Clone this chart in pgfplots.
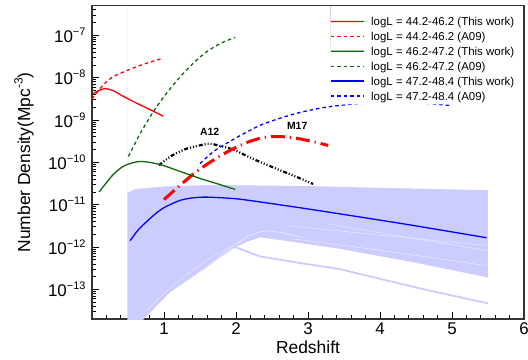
\documentclass[border=0pt]{standalone}
\usepackage{fontspec}
\setmainfont{Liberation Sans}
\usepackage{pgfplots}
\pgfplotsset{compat=1.18}
\definecolor{lav}{RGB}{204,204,255}
\definecolor{lavw}{RGB}{235,235,255}
\definecolor{dgreen}{RGB}{10,105,10}
\newcommand{\ex}[1]{\raisebox{7bp}{\fontsize{11}{11}\selectfont #1}}
\begin{document}
\begin{tikzpicture}
\fill[white] (-92bp,-41bp) rectangle (436bp,319bp);
\begin{axis}[
  scale only axis,
  width=432bp, height=313.3bp,
  xmin=0, xmax=6,
  ymode=log, ymin=2e-14, ymax=5e-7,
  xtick={1,2,3,4,5,6},
  xticklabels={1,2,3,4,5,6},
  minor xtick={0.2,0.4,0.6,0.8,1.2,1.4,1.6,1.8,2.2,2.4,2.6,2.8,3.2,3.4,3.6,3.8,4.2,4.4,4.6,4.8,5.2,5.4,5.6,5.8},
  ytick={1e-13,1e-12,1e-11,1e-10,1e-9,1e-8,1e-7},
  yticklabels={10\ex{−13},10\ex{−12},10\ex{−11},10\ex{−10},10\ex{−9},10\ex{−8},10\ex{−7}},
  minor ytick={2e-14,3e-14,4e-14,5e-14,6e-14,7e-14,8e-14,9e-14,
    2e-13,3e-13,4e-13,5e-13,6e-13,7e-13,8e-13,9e-13,
    2e-12,3e-12,4e-12,5e-12,6e-12,7e-12,8e-12,9e-12,
    2e-11,3e-11,4e-11,5e-11,6e-11,7e-11,8e-11,9e-11,
    2e-10,3e-10,4e-10,5e-10,6e-10,7e-10,8e-10,9e-10,
    2e-9,3e-9,4e-9,5e-9,6e-9,7e-9,8e-9,9e-9,
    2e-8,3e-8,4e-8,5e-8,6e-8,7e-8,8e-8,9e-8,
    2e-7,3e-7,4e-7},
  xtick pos=bottom, ytick pos=left,
  tick align=inside,
  major tick length=7bp, minor tick length=4bp,
  every tick/.style={black, line width=0.8bp},
  axis line style={line width=1.2bp, black!80},
  xticklabel style={font=\fontsize{17}{17}\selectfont},
  yticklabel style={font=\fontsize{17}{17}\selectfont, xshift=-3bp},
  xlabel={Redshift},
  ylabel={Number Density(Mpc\raisebox{7.5bp}{\fontsize{12}{12}\selectfont -3})},
  every axis x label/.style={at={(axis description cs:0.5,0)}, anchor=base, yshift=-34bp, font=\fontsize{17.5}{18}\selectfont},
  every axis y label/.style={at={(axis description cs:-0.1435,0.5)}, rotate=90, anchor=base, font=\fontsize{17.5}{18}\selectfont},
]
% band of curves
\addplot[fill=lav, draw=none, forget plot] coordinates {
 (0.49,1.91e-11) (0.6,2.34e-11) (1.0,2.69e-11) (1.5,2.88e-11) (2.0,2.88e-11)
 (3.0,2.75e-11) (4.0,2.51e-11) (5.5,2.19e-11)
 (5.5,1.91e-13) (4.56,4.07e-13) (3.44,9.12e-13) (2.8,1.32e-12) (2.33,1.70e-12)
 (2.15,1.32e-12) (1.99,1.0e-12) (1.55,3.02e-13) (1.08,8.51e-14) (0.69,1.78e-14)
 (0.69,1e-14) (0.49,1e-14) (0.49,1.91e-11)} \closedcycle;
\addplot[lav, line width=1.8bp, forget plot] coordinates {
 (1.99,1.0e-12) (2.33,6.03e-13) (2.9,4.17e-13) (3.44,3.02e-13) (4.0,1.78e-13) (4.56,1.05e-13) (5.5,4.68e-14)};
\addplot[lavw, line width=0.6bp, smooth, forget plot] coordinates {
 (1.55,2.82e-13) (1.9,8.91e-13) (2.2,1.91e-12) (2.47,2.40e-12) (2.93,1.70e-12)};
\addplot[lavw, line width=0.5bp, smooth, forget plot] coordinates {
 (2.7,3.24e-12) (4.0,1.91e-12) (5.48,1.10e-12)};
\addplot[lavw, line width=0.5bp, smooth, forget plot] coordinates {
 (3.26,3.55e-12) (4.3,1.78e-12) (5.48,8.32e-13)};
\addplot[lavw, line width=0.5bp, smooth, forget plot] coordinates {
 (2.8,1.55e-12) (4.1,7.94e-13) (5.48,3.63e-13)};
\addplot[lavw, line width=0.4bp, smooth, forget plot] coordinates {
 (0.75,3.16e-14) (1.2,1.58e-13) (1.7,6.31e-13) (2.1,1.41e-12)};
% A12
\addplot[black, line width=2.2bp, smooth, dash pattern=on 4bp off 2bp on 1bp off 2bp on 1bp off 2bp on 1bp off 2bp, forget plot] coordinates {
 (0.93,8.51e-11) (1.1,1.41e-10) (1.31,2.09e-10) (1.55,2.63e-10) (1.64,2.75e-10) (1.78,2.45e-10)
 (1.96,2.0e-10) (2.24,1.20e-10) (2.56,7.08e-11) (2.85,4.47e-11) (3.07,3.09e-11)};
% M17
\addplot[red, line width=3bp, smooth, dash pattern=on 14bp off 5bp on 1.2bp off 5bp, forget plot] coordinates {
 (1.0,1.32e-11) (1.21,2.75e-11) (1.45,6.03e-11) (1.7,1.17e-10) (1.96,2.09e-10) (2.2,3.16e-10)
 (2.43,3.98e-10) (2.71,3.98e-10) (2.99,3.31e-10) (3.28,2.51e-10)};
% series
\addplot[red, line width=1.3bp, smooth, forget plot] coordinates {
 (0.01,4.17e-9) (0.1,5.01e-9) (0.18,5.50e-9) (0.3,4.9e-9) (0.39,3.98e-9) (0.57,2.75e-9) (0.81,1.74e-9) (0.99,1.23e-9)};
\addplot[red, line width=1.3bp, smooth, dash pattern=on 3.5bp off 3bp, forget plot] coordinates {
 (0.0,3.16e-9) (0.1,5.25e-9) (0.2,7.94e-9) (0.3,1.07e-8) (0.5,1.51e-8) (0.67,1.95e-8) (0.85,2.45e-8) (0.99,2.88e-8)};
\addplot[dgreen, line width=1.3bp, smooth, forget plot] coordinates {
 (0.1,2.0e-11) (0.2,3.31e-11) (0.3,5.25e-11) (0.45,8.32e-11) (0.67,1.05e-10) (0.94,8.91e-11)
 (1.2,6.31e-11) (1.5,4.17e-11) (1.75,3.09e-11) (1.99,2.29e-11)};
\addplot[dgreen, line width=1.3bp, smooth, dash pattern=on 3.5bp off 3bp, forget plot] coordinates {
 (0.505,1.38e-10) (0.67,4.79e-10) (0.85,1.55e-9) (1.03,4.17e-9) (1.22,1.02e-8) (1.4,2.14e-8)
 (1.59,4.07e-8) (1.8,6.61e-8) (1.99,8.91e-8)};
\addplot[blue, line width=1.3bp, smooth, forget plot] coordinates {
 (0.53,1.41e-12) (0.65,2.63e-12) (0.85,5.50e-12) (1.0,8.51e-12) (1.22,1.26e-11) (1.4,1.45e-11)
 (1.6,1.51e-11) (2.0,1.38e-11) (2.4,1.12e-11) (3.0,7.94e-12) (3.72,5.13e-12) (4.5,3.16e-12) (5.48,1.66e-12)};
\addplot[blue, line width=1.3bp, smooth, dash pattern=on 3.5bp off 3bp, forget plot] coordinates {
 (1.5,9.33e-11) (1.7,1.86e-10) (1.96,3.47e-10) (2.2,5.75e-10) (2.4,8.32e-10) (2.85,1.45e-9)
 (3.32,2.09e-9) (3.9,2.55e-9) (4.5,2.55e-9) (4.99,2.19e-9)};
\node[font=\bfseries\fontsize{10.5}{12}\selectfont] at (axis cs:1.635,5.13e-10) {A12};
\node[font=\bfseries\fontsize{10.5}{12}\selectfont] at (axis cs:2.85,7.08e-10) {M17};
% legend: white background, then keys, then texts
\addplot[fill=white, draw=none, forget plot] coordinates {(3.25,2.34e-9) (5.917,2.34e-9) (5.917,3.31e-7) (3.25,3.31e-7)} \closedcycle;
\addplot[fill=red, draw=none, forget plot] coordinates {(3.319,2.036e-7) (3.778,2.036e-7) (3.778,2.185e-7) (3.319,2.185e-7)} \closedcycle;
\addplot[red, line width=1.3bp, dash pattern=on 3.5bp off 3bp, forget plot] coordinates {(3.319,9.37e-8) (3.778,9.37e-8)};
\addplot[fill=dgreen, draw=none, forget plot] coordinates {(3.319,4.045e-8) (3.778,4.045e-8) (3.778,4.34e-8) (3.319,4.34e-8)} \closedcycle;
\addplot[dgreen, line width=1.3bp, dash pattern=on 3.5bp off 3bp, forget plot] coordinates {(3.319,1.862e-8) (3.778,1.862e-8)};
\addplot[blue, line width=1.3bp, forget plot] coordinates {(3.319,8.32e-9) (3.778,8.32e-9)};
\addplot[blue, line width=1.3bp, dash pattern=on 3.5bp off 3bp, forget plot] coordinates {(3.319,3.69e-9) (3.778,3.69e-9)};
\begin{scope}[every node/.style={anchor=base west, inner sep=0pt, font=\fontsize{11.5}{13}\selectfont}]
\node at (axis cs:3.875,1.66e-7) {logL = 44.2-46.2 (This work)};
\node at (axis cs:3.875,7.38e-8) {logL = 44.2-46.2 (A09)};
\node at (axis cs:3.875,3.30e-8) {logL = 46.2-47.2 (This work)};
\node at (axis cs:3.875,1.466e-8) {logL = 46.2-47.2 (A09)};
\node at (axis cs:3.875,6.55e-9) {logL = 47.2-48.4 (This work)};
\node at (axis cs:3.875,2.90e-9) {logL = 47.2-48.4 (A09)};
\end{scope}
\end{axis}
\pgfresetboundingbox
\path[use as bounding box] (-92bp,-41bp) rectangle (436bp,319bp);
\end{tikzpicture}
\end{document}
